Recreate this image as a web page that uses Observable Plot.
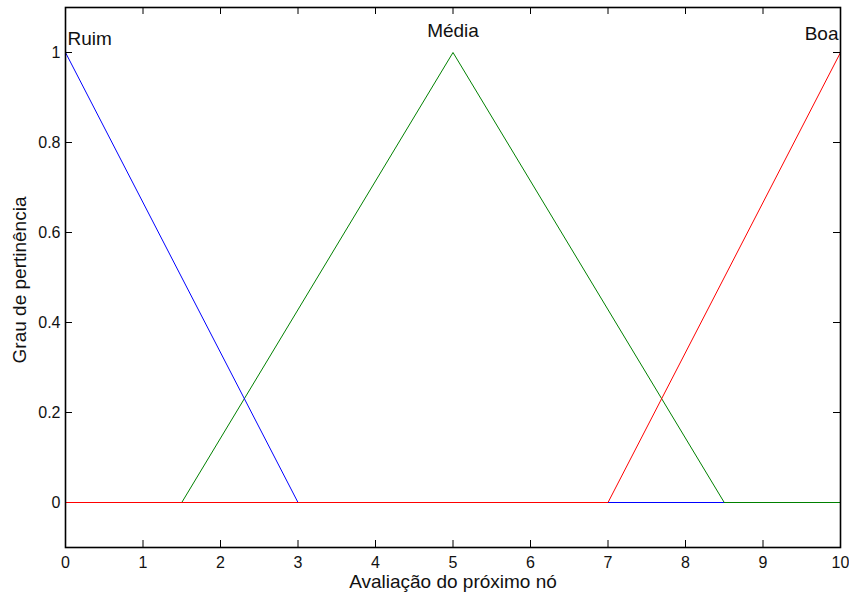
<!DOCTYPE html>
<html>
<head>
<meta charset="utf-8">
<script src="https://cdn.jsdelivr.net/npm/d3@7"></script>
<script src="https://cdn.jsdelivr.net/npm/@observablehq/plot@0.6"></script>
<style>
  html, body { margin: 0; padding: 0; background: #fff; }
  svg { font-family: "Liberation Sans", Arial, sans-serif; }
</style>
</head>
<body>
<div id="chart"></div>
<script>
// Membership functions (x, grau de pertinência)
const ruimX = [0, 3, 10];
const ruimY = [1, 0, 0];
const mediaX = [0, 1.5, 5, 8.5, 10];
const mediaY = [0, 0, 1, 0, 0];
const boaX = [0, 7, 10];
const boaY = [0, 0, 1];

const mfNames = ["Ruim", "Média", "Boa"];
const mfLabelX = [0, 5, 10];
const mfLabelY = [1.031, 1.047, 1.042];

const xTicks = [0, 1, 2, 3, 4, 5, 6, 7, 8, 9, 10];
const yTicks = [0, 0.2, 0.4, 0.6, 0.8, 1];

const toPts = (xs, ys) => xs.map((x, i) => ({x, y: ys[i]}));
const ruim = toPts(ruimX, ruimY);
const media = toPts(mediaX, mediaY);
const boa = toPts(boaX, boaY);
const labels = mfNames.map((n, i) => ({name: n, x: mfLabelX[i], y: mfLabelY[i]}));

const W = 849, H = 596, mL = 65, mR = 9, mT = 7, mB = 49;
const plotW = W - mL - mR, plotH = H - mT - mB;
const tickLen = 7;

const chart = Plot.plot({
  width: W,
  height: H,
  marginLeft: mL,
  marginRight: mR,
  marginTop: mT,
  marginBottom: mB,
  style: {fontSize: "16px", fontFamily: "'Liberation Sans', Arial, sans-serif", color: "#111"},
  x: {domain: [0, 10]},
  y: {domain: [-0.1, 1.1]},
  marks: [
    Plot.axisX({anchor: "bottom", ticks: xTicks, tickSize: 0, tickPadding: 9, label: null, fontSize: 16, tickFormat: d => String(d)}),
    Plot.axisY({anchor: "left", ticks: yTicks, tickSize: 0, tickPadding: 5, label: null, fontSize: 16, tickFormat: d => String(d)}),
    // inward tick marks on all four sides
    Plot.tickX(xTicks, {x: d => d, stroke: "#000", insetTop: plotH - tickLen}),
    Plot.tickX(xTicks, {x: d => d, stroke: "#000", insetBottom: plotH - tickLen}),
    Plot.tickY(yTicks, {y: d => d, stroke: "#000", insetRight: plotW - tickLen}),
    Plot.tickY(yTicks, {y: d => d, stroke: "#000", insetLeft: plotW - tickLen}),
    Plot.line(media, {x: "x", y: "y", stroke: "#008000", strokeWidth: 1}),
    Plot.line(ruim, {x: "x", y: "y", stroke: "#0000ff", strokeWidth: 1}),
    Plot.line(media.filter(d => d.x >= 8.5), {x: "x", y: "y", stroke: "#008000", strokeWidth: 1}),
    Plot.line(boa, {x: "x", y: "y", stroke: "#ff0000", strokeWidth: 1}),
    Plot.text(labels.filter(d => d.name === "Ruim"), {x: "x", y: "y", text: "name", textAnchor: "start", dx: 2, fontSize: 19, fill: "#111"}),
    Plot.text(labels.filter(d => d.name === "Média"), {x: "x", y: "y", text: "name", textAnchor: "middle", fontSize: 19, fill: "#111"}),
    Plot.text(labels.filter(d => d.name === "Boa"), {x: "x", y: "y", text: "name", textAnchor: "end", dx: -2, fontSize: 19, fill: "#111"}),
    Plot.frame({stroke: "#000", strokeWidth: 1.6})
  ]
});

// axis titles
const svg = d3.select(chart);
svg.append("text")
  .attr("x", 453).attr("y", 588)
  .attr("text-anchor", "middle")
  .attr("font-size", 19).attr("fill", "#111")
  .text("Avaliação do próximo nó");
svg.append("text")
  .attr("transform", "translate(26,280) rotate(-90)")
  .attr("text-anchor", "middle")
  .attr("font-size", 19).attr("fill", "#111")
  .text("Grau de pertinência");

document.getElementById("chart").appendChild(chart);
</script>
</body>
</html>
